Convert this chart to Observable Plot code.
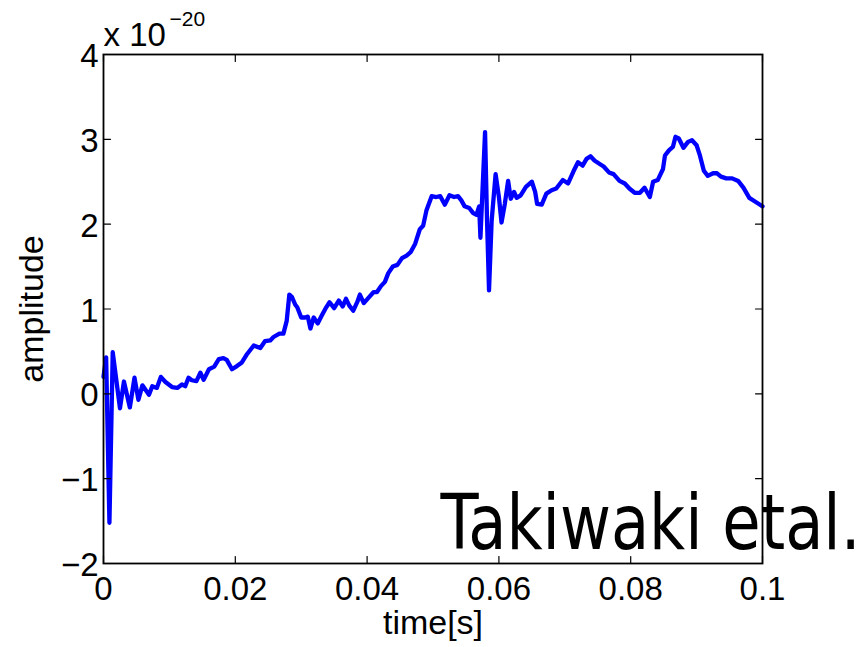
<!DOCTYPE html>
<html><head><meta charset="utf-8">
<script src="https://cdn.jsdelivr.net/npm/d3@7"></script>
<script src="https://cdn.jsdelivr.net/npm/@observablehq/plot@0.6"></script>
<style>body{margin:0;background:#fff}</style>
</head><body><div id="chart"></div>
<script>
const time = [0, 0.0004, 0.0009, 0.0014, 0.0025, 0.0031, 0.0040, 0.0047, 0.0053, 0.0059,
  0.0069, 0.0074, 0.0081, 0.0087, 0.0094, 0.0104, 0.0112, 0.0119, 0.0124, 0.0129,
  0.0134, 0.0141, 0.0147, 0.0152, 0.0160, 0.0168, 0.0175, 0.0182, 0.0187, 0.0195,
  0.0203, 0.0210, 0.0218, 0.0228, 0.0238, 0.0245, 0.0253, 0.0258, 0.0267, 0.0273,
  0.0278, 0.0282, 0.0286, 0.0291, 0.0294, 0.0300, 0.0306, 0.0310, 0.0314, 0.0319,
  0.0325, 0.0331, 0.0338, 0.0343, 0.0350, 0.0357, 0.0363, 0.0368, 0.0373, 0.0379,
  0.0385, 0.0389, 0.0395, 0.0403, 0.0410, 0.0415, 0.0421, 0.0427, 0.0432, 0.0439,
  0.0446, 0.0453, 0.0460, 0.0466, 0.0473, 0.0480, 0.0485, 0.0490, 0.0498, 0.0505,
  0.0511, 0.0518, 0.0525, 0.0532, 0.0538, 0.0543, 0.0548, 0.0555, 0.0561, 0.0566,
  0.0570, 0.0572, 0.0574, 0.0579, 0.0582, 0.0585, 0.0589, 0.0595, 0.0600, 0.0604,
  0.0609, 0.0614, 0.0618, 0.0623, 0.0627, 0.0633, 0.0641, 0.0650, 0.0655, 0.0658,
  0.0665, 0.0672, 0.0680, 0.0687, 0.0697, 0.0705, 0.0713, 0.0720, 0.0727, 0.0733,
  0.0739, 0.0745, 0.0753, 0.0759, 0.0767, 0.0774, 0.0783, 0.0791, 0.0798, 0.0806,
  0.0814, 0.0821, 0.0829, 0.0834, 0.0841, 0.0849, 0.0852, 0.0858, 0.0864, 0.0868,
  0.0873, 0.0880, 0.0887, 0.0893, 0.0900, 0.0905, 0.0911, 0.0917, 0.0925, 0.0931,
  0.0937, 0.0945, 0.0954, 0.0963, 0.0971, 0.0980, 0.0988, 0.0998, 0.1000];
const amplitude = [0.20, 0.43, -1.52, 0.49, -0.17, 0.145, -0.16, 0.19, -0.07, 0.10,
  -0.01, 0.09, 0.07, 0.20, 0.14, 0.08, 0.07, 0.11, 0.09, 0.19,
  0.16, 0.15, 0.25, 0.165, 0.29, 0.32, 0.41, 0.42, 0.40, 0.29,
  0.33, 0.37, 0.47, 0.57, 0.54, 0.62, 0.63, 0.67, 0.71, 0.71,
  0.86, 1.17, 1.14, 1.05, 1.02, 0.90, 0.90, 0.91, 0.77, 0.90,
  0.83, 0.92, 1.02, 1.08, 1.01, 1.10, 1.03, 1.12, 1.04, 0.98,
  1.08, 1.17, 1.07, 1.14, 1.20, 1.20, 1.27, 1.32, 1.42, 1.50,
  1.52, 1.60, 1.63, 1.67, 1.77, 1.94, 1.98, 2.16, 2.33, 2.32,
  2.33, 2.23, 2.34, 2.32, 2.33, 2.28, 2.21, 2.19, 2.13, 2.11,
  2.21, 1.84, 2.20, 3.085, 2.04, 1.22, 2.04, 2.59, 2.32, 2.02,
  2.24, 2.51, 2.30, 2.38, 2.31, 2.34, 2.44, 2.50, 2.38, 2.24,
  2.23, 2.36, 2.40, 2.42, 2.52, 2.48, 2.62, 2.73, 2.69, 2.77,
  2.80, 2.75, 2.71, 2.68, 2.61, 2.59, 2.51, 2.48, 2.42, 2.37,
  2.37, 2.43, 2.32, 2.50, 2.52, 2.65, 2.81, 2.87, 2.91, 3.03,
  3.01, 2.90, 2.97, 2.99, 2.93, 2.81, 2.63, 2.57, 2.60, 2.60,
  2.56, 2.54, 2.54, 2.51, 2.43, 2.31, 2.27, 2.22, 2.21];
const xTicks = [0, 0.02, 0.04, 0.06, 0.08, 0.1];
const xTickLabels = ["0", "0.02", "0.04", "0.06", "0.08", "0.1"];
const yTicks = [-2, -1, 0, 1, 2, 3, 4];
const yTickLabels = ["\u22122", "\u22121", "0", "1", "2", "3", "4"];
const xLabel = "time[s]";
const yLabel = "amplitude";
const exponentBase = "x 10";
const exponentPower = "\u221220";
const annotation = "Takiwaki etal.";

const data = time.map((t, i) => ({t, a: amplitude[i]}));
const tickShape = {draw(context, l) { context.moveTo(0, 0); context.lineTo(0, -l); }};
const tickOpts = {length: 7, anchor: "start", shape: tickShape, stroke: "black", strokeWidth: 1.2};
const font = "'Liberation Sans', Arial, Helvetica, sans-serif";

const chart = Plot.plot({
  width: 867, height: 647,
  marginLeft: 103, marginRight: 105, marginTop: 54, marginBottom: 84,
  style: {fontFamily: font, background: "#fff", color: "#000"},
  x: {domain: [0, 0.1]},
  y: {domain: [-2, 4]},
  marks: [
    Plot.axisX(xTicks, {anchor: "bottom", tickSize: 0, tickPadding: 13, tickFormat: d => xTickLabels[xTicks.indexOf(d)], label: null, fontSize: 33, fill: "black"}),
    Plot.axisY(yTicks, {anchor: "left", tickSize: 0, tickPadding: 5, tickFormat: d => yTickLabels[yTicks.indexOf(d)], label: null, fontSize: 33, fill: "black", dy: 2}),
    Plot.text([annotation], {text: d => d, frameAnchor: "bottom-right", textAnchor: "end", lineAnchor: "bottom", dx: 98, dy: -15, fontSize: 77, fontFamily: "'DejaVu Sans', Verdana, sans-serif", fill: "black"}),
    Plot.line(data, {x: "t", y: "a", stroke: "#0000ff", strokeWidth: 4.3, strokeLinejoin: "round", strokeLinecap: "round"}),
    Plot.vector(yTicks, {y: d => d, frameAnchor: "left", rotate: 90, ...tickOpts}),
    Plot.vector(yTicks, {y: d => d, frameAnchor: "right", rotate: -90, ...tickOpts}),
    Plot.vector(xTicks, {x: d => d, frameAnchor: "bottom", rotate: 0, ...tickOpts}),
    Plot.vector(xTicks, {x: d => d, frameAnchor: "top", rotate: 180, ...tickOpts}),
    Plot.frame({stroke: "black", strokeWidth: 1.8}),
    Plot.text([xLabel], {text: d => d, frameAnchor: "bottom", textAnchor: "middle", lineAnchor: "bottom", dy: 70, fontSize: 34, fill: "black"}),
    Plot.text([yLabel], {text: d => d, frameAnchor: "left", textAnchor: "middle", lineAnchor: "bottom", rotate: -90, dx: -61, fontSize: 34, fill: "black"}),
    Plot.text([exponentBase], {text: d => d, frameAnchor: "top-left", textAnchor: "start", lineAnchor: "bottom", dy: -9, fontSize: 33, fill: "black"}),
    Plot.text([exponentPower], {text: d => d, frameAnchor: "top-left", textAnchor: "start", lineAnchor: "bottom", dx: 66, dy: -29, fontSize: 21, fill: "black"})
  ]
});

d3.select(chart).selectAll("text").filter(function() { return this.textContent === annotation; })
  .each(function() {
    const tr = this.getAttribute("transform") || "";
    this.setAttribute("transform", tr + " scale(0.81,1)");
  });

document.getElementById("chart").appendChild(chart);
</script>
</body></html>
